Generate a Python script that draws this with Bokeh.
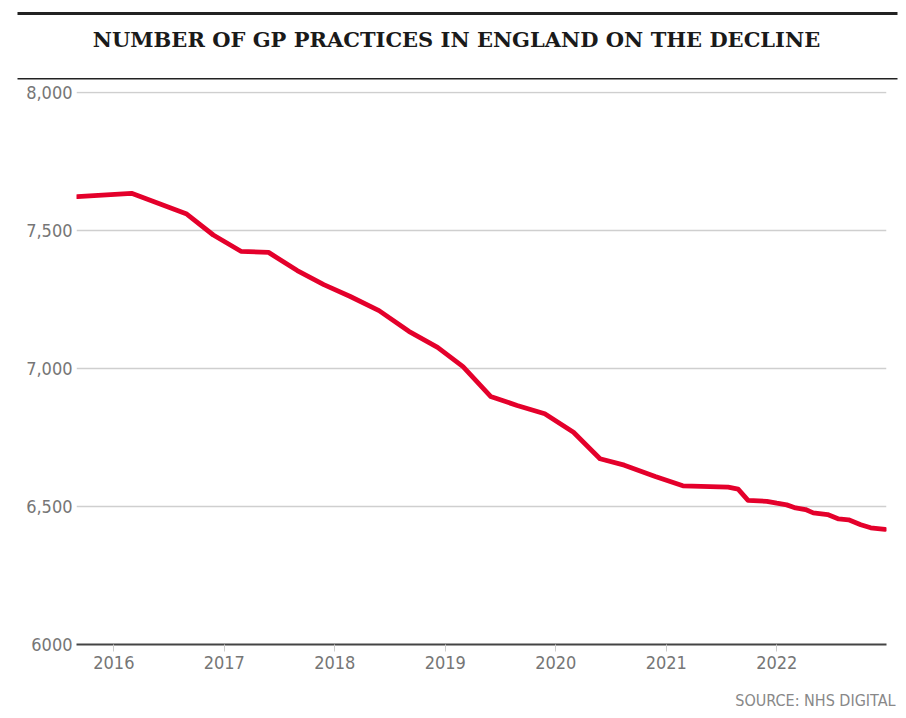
from bokeh.plotting import figure
from bokeh.models import Range1d, FixedTicker
from bokeh.layouts import column
from bokeh.core.properties import value
from bokeh.embed import file_html
from bokeh.resources import INLINE

# ---- data ----
years = [2015.67, 2016.16, 2016.66, 2016.90, 2017.15, 2017.40, 2017.66, 2017.90,
         2018.14, 2018.40, 2018.67, 2018.93, 2019.16, 2019.41, 2019.65, 2019.90,
         2020.16, 2020.40, 2020.62, 2020.90, 2021.15, 2021.56, 2021.65, 2021.74,
         2021.91, 2022.00, 2022.09, 2022.17, 2022.26, 2022.33, 2022.46, 2022.56,
         2022.65, 2022.76, 2022.85, 2022.98]
practices = [7623, 7635, 7560, 7484, 7425, 7421, 7355, 7304,
             7261, 7210, 7135, 7077, 7007, 6899, 6866, 6836,
             6769, 6673, 6650, 6609, 6575, 6570, 6563, 6522,
             6519, 6512, 6506, 6495, 6489, 6477, 6471, 6455,
             6452, 6434, 6423, 6417]
y_ticks = [6000, 6500, 7000, 7500, 8000]
y_tick_labels = ["6000", "6,500", "7,000", "7,500", "8,000"]
x_ticks = [2016, 2017, 2018, 2019, 2020, 2021, 2022]
x_tick_labels = ["2016", "2017", "2018", "2019", "2020", "2021", "2022"]
title_text = "NUMBER OF GP PRACTICES IN ENGLAND ON THE DECLINE"
source_text = "SOURCE: NHS DIGITAL"

W = 906
HEAD_H, MAIN_H, FOOT_H = 80, 604, 34
NARROW = "'Liberation Sans Narrow', 'DejaVu Sans Condensed', sans-serif"
GREY = "#767676"
INK = "#222222"


def blank(height, y0):
    f = figure(width=W, height=height, output_backend="svg", toolbar_location=None,
               x_range=Range1d(0, W), y_range=Range1d(y0 + height, y0),
               x_axis_type=None, y_axis_type=None, min_border=0,
               outline_line_color=None)
    f.grid.visible = False
    f.frame_align = False
    return f


# ---- header: rules and title ----
head = blank(HEAD_H, 0)
head.quad(left=[17, 17], right=[897, 897], top=[11.5, 77.5], bottom=[14.5, 79],
          fill_color=INK, line_color=None)
head.text(x=[456], y=[39], text=[title_text], text_align="center",
          text_baseline="middle", text_font=value("DejaVu Serif"),
          text_font_style="bold", text_font_size="21px", text_color="#1a1a1a")

# ---- main chart ----
p = figure(width=W, height=MAIN_H, output_backend="svg", toolbar_location=None,
           x_range=Range1d(2015.662, 2022.993), y_range=Range1d(6000, 8004),
           min_border_left=76, min_border_right=W - 886, min_border_top=91 - HEAD_H,
           min_border_bottom=HEAD_H + MAIN_H - 644, outline_line_color=None)
p.frame_align = False

p.line(years, practices, line_color="#e4002b", line_width=4.8,
       line_join="round", line_cap="round")

p.yaxis.ticker = FixedTicker(ticks=y_ticks)
p.yaxis.major_label_overrides = {t: l for t, l in zip(y_ticks, y_tick_labels)}
p.yaxis.axis_line_color = None
p.yaxis.major_tick_line_color = None
p.yaxis.major_tick_in = 0
p.yaxis.major_tick_out = 0
p.yaxis.minor_tick_line_color = None
p.yaxis.major_label_standoff = 4
p.yaxis.major_label_text_font = NARROW
p.yaxis.major_label_text_font_size = "18px"
p.yaxis.major_label_text_color = GREY

p.xaxis.ticker = FixedTicker(ticks=x_ticks)
p.xaxis.major_label_overrides = {t: l for t, l in zip(x_ticks, x_tick_labels)}
p.xaxis.axis_line_color = "#444444"
p.xaxis.axis_line_width = 2
p.xaxis.major_tick_line_color = "#cccccc"
p.xaxis.major_tick_out = 7
p.xaxis.major_tick_in = 0
p.xaxis.minor_tick_line_color = None
p.xaxis.major_label_standoff = 4
p.xaxis.major_label_text_font = NARROW
p.xaxis.major_label_text_font_size = "18px"
p.xaxis.major_label_text_color = GREY

p.xgrid.grid_line_color = None
p.ygrid.ticker = FixedTicker(ticks=y_ticks)
p.ygrid.grid_line_color = "#cfcfcf"
p.ygrid.grid_line_width = 1.5

# ---- footer: source ----
foot = blank(FOOT_H, HEAD_H + MAIN_H)
foot.text(x=[895], y=[700], text=[source_text], text_align="right",
          text_baseline="middle", text_font=value(NARROW),
          text_font_size="16px", text_color="#888888")

open("out.html", "w").write(file_html(column(head, p, foot, spacing=0), INLINE))
